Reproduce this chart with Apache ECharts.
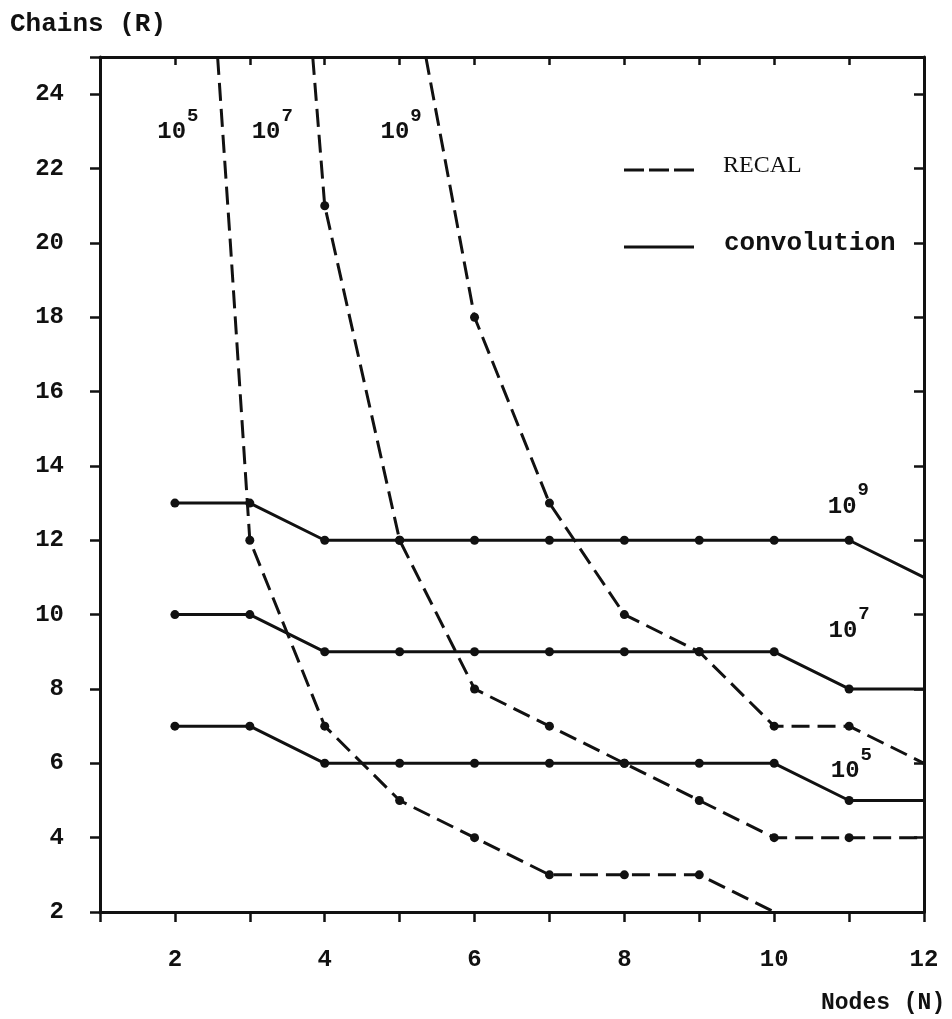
<!DOCTYPE html>
<html>
<head>
<meta charset="utf-8">
<title>Chains vs Nodes: RECAL and convolution</title>
<script src="https://cdn.jsdelivr.net/npm/echarts@6/dist/echarts.min.js"></script>
<style>
  html, body { margin: 0; padding: 0; background: #fff; }
  #chart { width: 952px; height: 1019px; }
</style>
</head>
<body>
<div id="chart"></div>
<script>
// Nodes on the horizontal axis for the convolution curves
const convNodes = [2, 3, 4, 5, 6, 7, 8, 9, 10, 11, 12];
// Chains reachable with convolution for 10^5, 10^7, 10^9 operations
const conv1e5 = [7, 7, 6, 6, 6, 6, 6, 6, 6, 5, 5];
const conv1e7 = [10, 10, 9, 9, 9, 9, 9, 9, 9, 8, 8];
const conv1e9 = [13, 13, 12, 12, 12, 12, 12, 12, 12, 12, 11];

// RECAL curves: nodes and chains for 10^5, 10^7, 10^9 operations
const recal1e5Nodes = [2.57, 2.74, 2.87, 3, 4, 5, 6, 7, 8, 9, 10];
const recal1e5Chains = [25, 20, 16, 12, 7, 5, 4, 3, 3, 3, 2];
const recal1e7Nodes = [3.84, 4, 5, 6, 7, 8, 9, 10, 11, 12];
const recal1e7Chains = [25, 21, 12, 8, 7, 6, 5, 4, 4, 4];
const recal1e9Nodes = [5.35, 6, 7, 8, 9, 10, 11, 12];
const recal1e9Chains = [25, 18, 13, 10, 9, 7, 7, 6];

// Curve annotations (power of ten) and where they sit in data space
const labelExponents = ['5', '7', '9', '9', '7', '5'];
const labelNodes = [2.04, 3.30, 5.02, 10.99, 11.0, 11.03];
const labelChains = [23.16, 23.16, 23.16, 13.09, 9.75, 5.97];

const X_MIN = 1, X_MAX = 12, Y_MIN = 2, Y_MAX = 25;
const INK = '#111';
const MONO = '"Liberation Mono", "DejaVu Sans Mono", monospace';
const SERIF = '"Liberation Serif", "DejaVu Serif", serif';

// A computed point gets a dot when it lies on an interior integer node
function toPoints(xs, ys) {
  return xs.map((x, i) => {
    const y = ys[i];
    const dotted = Number.isInteger(x) && x > X_MIN && x < X_MAX && y > Y_MIN && y < Y_MAX;
    return dotted ? { value: [x, y] } : { value: [x, y], symbol: 'none' };
  });
}

function lineSeries(name, xs, ys, dashed) {
  return {
    name: name,
    type: 'line',
    data: toPoints(xs, ys),
    symbol: 'circle',
    symbolSize: 9,
    itemStyle: { color: INK },
    lineStyle: dashed
      ? { color: INK, width: 3, type: [18, 8] }
      : { color: INK, width: 3, type: 'solid' },
    z: dashed ? 3 : 4,
    animation: false
  };
}

const axisLineStyle = { color: INK, width: 3 };
const labelFont = { color: INK, fontSize: 24, fontWeight: 'bold', fontFamily: MONO };

const chart = echarts.init(document.getElementById('chart'), null, { renderer: 'canvas' });

chart.setOption({
  backgroundColor: '#fff',
  animation: false,
  grid: { left: 100, right: 28, top: 57, bottom: 107 },
  xAxis: [
    {
      type: 'value', position: 'bottom', min: X_MIN, max: X_MAX, interval: 1,
      axisLine: { onZero: false, lineStyle: axisLineStyle },
      axisTick: { length: 10, lineStyle: { color: INK, width: 2.5 } },
      axisLabel: Object.assign({ margin: 36, formatter: v => (v % 2 === 0 ? String(v) : '') }, labelFont),
      splitLine: { show: false }
    },
    {
      type: 'value', position: 'top', min: X_MIN, max: X_MAX, interval: 1,
      axisLine: { onZero: false, lineStyle: axisLineStyle },
      axisTick: { inside: true, length: 8, lineStyle: { color: INK, width: 2.5 } },
      axisLabel: { show: false },
      splitLine: { show: false }
    }
  ],
  yAxis: [
    {
      type: 'value', position: 'left', min: Y_MIN, max: Y_MAX, interval: 2,
      axisLine: { onZero: false, lineStyle: axisLineStyle },
      axisTick: { length: 10, lineStyle: { color: INK, width: 2.5 } },
      axisLabel: Object.assign({ margin: 36, formatter: v => (v % 2 === 0 ? String(v) : '') }, labelFont),
      splitLine: { show: false }
    },
    {
      type: 'value', position: 'right', min: Y_MIN, max: Y_MAX, interval: 2,
      axisLine: { onZero: false, lineStyle: axisLineStyle },
      axisTick: { inside: true, length: 10, lineStyle: { color: INK, width: 2.5 } },
      axisLabel: { show: false },
      splitLine: { show: false }
    }
  ],
  series: [
    lineSeries('convolution 1e5', convNodes, conv1e5, false),
    lineSeries('convolution 1e7', convNodes, conv1e7, false),
    lineSeries('convolution 1e9', convNodes, conv1e9, false),
    lineSeries('RECAL 1e5', recal1e5Nodes, recal1e5Chains, true),
    lineSeries('RECAL 1e7', recal1e7Nodes, recal1e7Chains, true),
    lineSeries('RECAL 1e9', recal1e9Nodes, recal1e9Chains, true),
    {
      name: 'curve labels',
      type: 'scatter',
      symbolSize: 0,
      silent: true,
      z: 6,
      itemStyle: { opacity: 1, color: INK },
      data: labelNodes.map((x, i) => ({ value: [x, labelChains[i]], exp: labelExponents[i] })),
      label: {
        show: true,
        position: 'inside',
        opacity: 1,
        color: INK,
        textBorderWidth: 0,
        // the zero-width spacer sets the line height so the exponent sits raised
        formatter: p => '{b|10}{s|' + p.data.exp + '}{sp|}',
        rich: {
          b: { fontSize: 24, fontWeight: 'bold', fontFamily: MONO, color: INK, textBorderWidth: 0,
               verticalAlign: 'bottom', lineHeight: 26 },
          s: { fontSize: 19, fontWeight: 'bold', fontFamily: MONO, color: INK, textBorderWidth: 0,
               verticalAlign: 'top', lineHeight: 19, padding: [0, 0, 0, 1] },
          sp: { fontSize: 10, lineHeight: 38, width: 0 }
        }
      }
    }
  ],
  graphic: [
    // axis titles
    { type: 'text', left: 10, top: 11,
      style: { text: 'Chains (R)', font: 'bold 26px ' + MONO, fill: INK } },
    { type: 'text', left: 821, top: 992,
      style: { text: 'Nodes (N)', font: 'bold 23px ' + MONO, fill: INK } },
    // key
    { type: 'line', shape: { x1: 624, y1: 170, x2: 694, y2: 170 },
      style: { stroke: INK, lineWidth: 3, lineDash: [20, 5] } },
    { type: 'text', x: 723, y: 166,
      style: { text: 'RECAL', font: '24px ' + SERIF, fill: INK, verticalAlign: 'middle' } },
    { type: 'line', shape: { x1: 624, y1: 247, x2: 694, y2: 247 },
      style: { stroke: INK, lineWidth: 3 } },
    { type: 'text', x: 724, y: 243,
      style: { text: 'convolution', font: 'bold 26px ' + MONO, fill: INK, verticalAlign: 'middle' } }
  ]
});
</script>
</body>
</html>
